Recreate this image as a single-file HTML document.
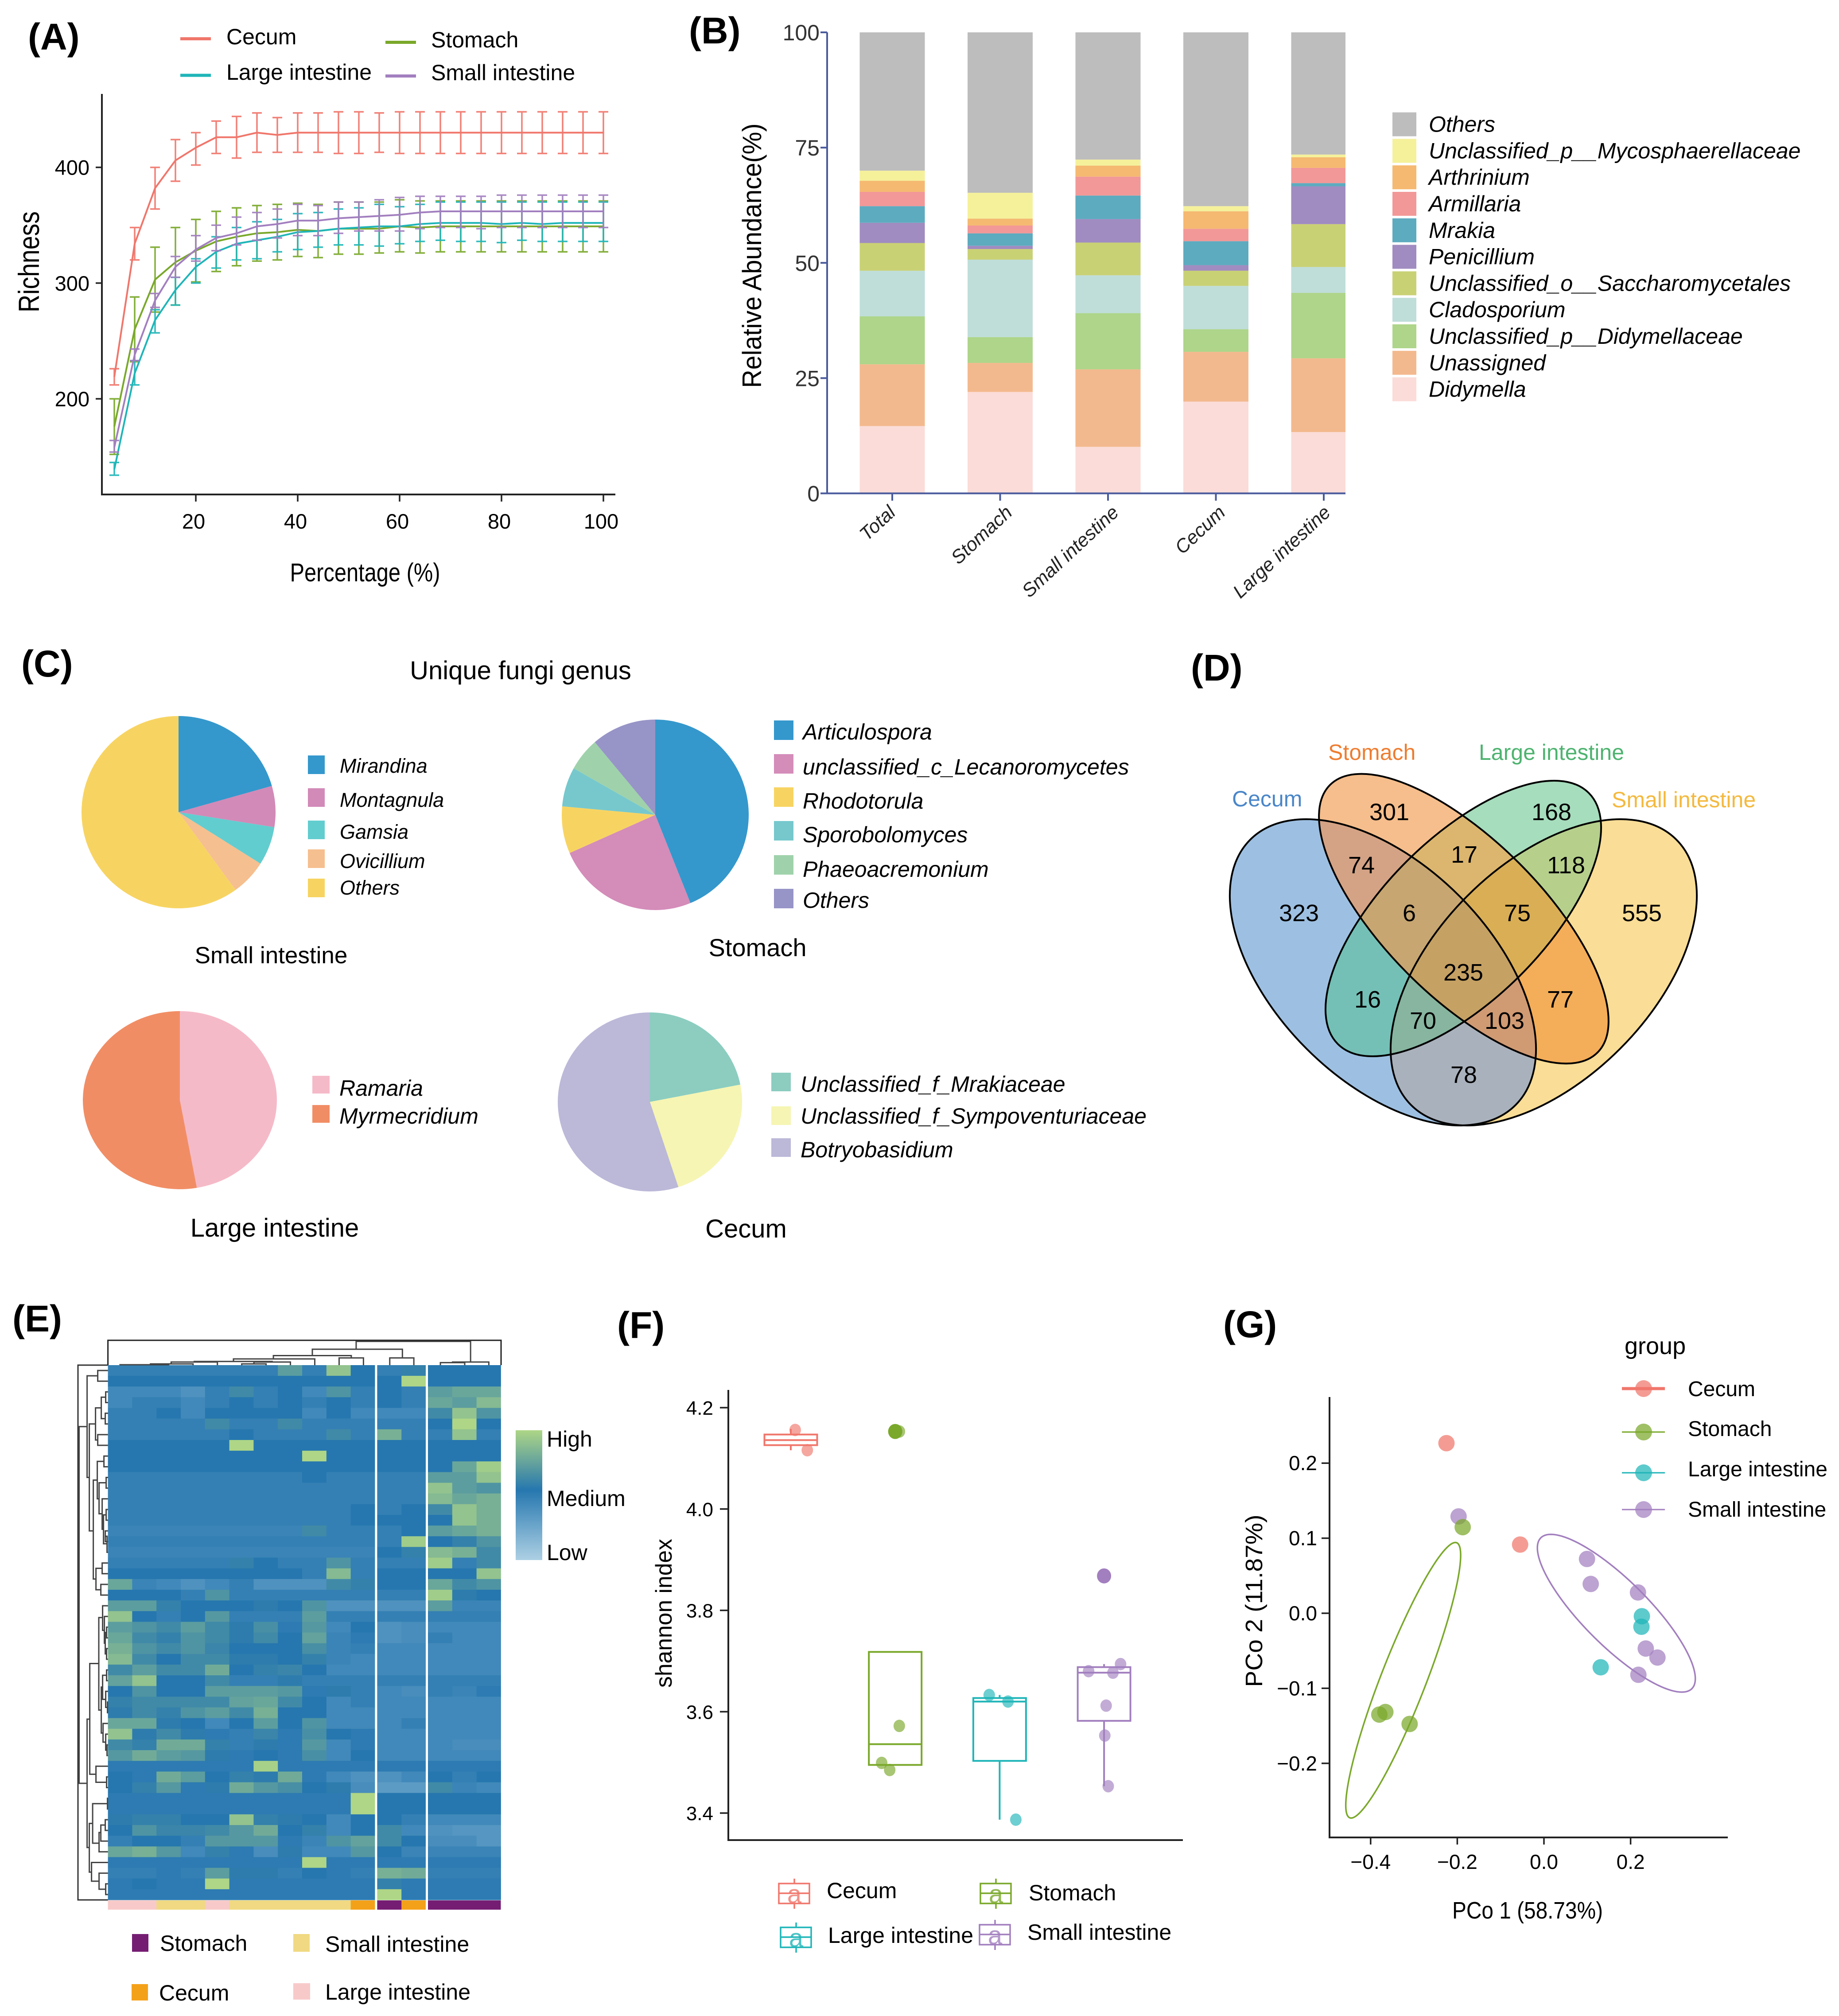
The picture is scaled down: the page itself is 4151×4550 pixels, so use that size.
<!DOCTYPE html>
<html lang="en"><head><meta charset="utf-8"><title>Gut fungi composite figure</title>
<style>html,body{margin:0;padding:0;background:#fff}svg{display:block;font-family:"Liberation Sans",Arial,sans-serif}</style></head>
<body>
<svg id="fig" xmlns="http://www.w3.org/2000/svg" width="4151" height="4550" viewBox="0 0 4151 4550">
<rect width="4151" height="4550" fill="#fff"/>
<g font-weight="bold" font-size="84" fill="#000">
<text x="63" y="112">(A)</text>
<text x="1555" y="98">(B)</text>
<text x="48" y="1527">(C)</text>
<text x="2688" y="1536">(D)</text>
<text x="28" y="3005">(E)</text>
<text x="1393" y="3020">(F)</text>
<text x="2761" y="3018">(G)</text>
</g>
<g id="panelA">
<text x="511" y="100" font-size="50">Cecum</text>
<text x="511" y="180" font-size="50">Large intestine</text>
<text x="973" y="107" font-size="50">Stomach</text>
<text x="973" y="181" font-size="50">Small intestine</text>
<text transform="translate(88 591) rotate(-90)" text-anchor="middle" font-size="66" textLength="228" lengthAdjust="spacingAndGlyphs">Richness</text>
<text x="824" y="1312" text-anchor="middle" font-size="58" textLength="339" lengthAdjust="spacingAndGlyphs">Percentage (%)</text>
</g>
<g id="panelB">
<text transform="translate(1718 577) rotate(-90)" text-anchor="middle" font-size="60" textLength="597" lengthAdjust="spacingAndGlyphs">Relative Abundance(%)</text>
</g>
<g id="panelC">
<text x="1175" y="1533" text-anchor="middle" font-size="58">Unique fungi genus</text>
<text x="612" y="2174" text-anchor="middle" font-size="53">Small intestine</text>
<text x="1710" y="2158" text-anchor="middle" font-size="56">Stomach</text>
<text x="620" y="2791" text-anchor="middle" font-size="58">Large intestine</text>
<text x="1684" y="2793" text-anchor="middle" font-size="58">Cecum</text>
</g>
<g id="panelD">
<defs>
<clipPath id="cv"><ellipse cx="3121.5" cy="2194.5" rx="423.5" ry="243.8" transform="rotate(45 3121.5 2194.5)"/></clipPath>
<clipPath id="sv"><ellipse cx="3304" cy="2073.5" rx="427" ry="177" transform="rotate(45 3304 2073.5)"/></clipPath>
<clipPath id="lv"><ellipse cx="3303" cy="2073" rx="400.6" ry="181.6" transform="rotate(-45 3303 2073)"/></clipPath>
<clipPath id="mv"><ellipse cx="3484.5" cy="2194.5" rx="423.5" ry="243.8" transform="rotate(-45 3484.5 2194.5)"/></clipPath>
</defs>
<g id="vennRegions"></g>
<g fill="none" stroke="#000" stroke-width="4">
<ellipse cx="3121.5" cy="2194.5" rx="423.5" ry="243.8" transform="rotate(45 3121.5 2194.5)"/>
<ellipse cx="3304" cy="2073.5" rx="427" ry="177" transform="rotate(45 3304 2073.5)"/>
<ellipse cx="3303" cy="2073" rx="400.6" ry="181.6" transform="rotate(-45 3303 2073)"/>
<ellipse cx="3484.5" cy="2194.5" rx="423.5" ry="243.8" transform="rotate(-45 3484.5 2194.5)"/>
</g>
<g font-size="50">
<text x="2781" y="1820" fill="#4a86c8">Cecum</text>
<text x="2998" y="1715" fill="#ee7d31">Stomach</text>
<text x="3338" y="1715" fill="#4db36f">Large intestine</text>
<text x="3638" y="1822" fill="#f4b93e">Small intestine</text>
</g>
<g font-size="54" text-anchor="middle">
<text x="2932" y="2079">323</text>
<text x="3136" y="1851">301</text>
<text x="3502" y="1851">168</text>
<text x="3706" y="2079">555</text>
<text x="3073" y="1971">74</text>
<text x="3305" y="1947">17</text>
<text x="3535" y="1971">118</text>
<text x="3181" y="2079">6</text>
<text x="3425" y="2079">75</text>
<text x="3303" y="2213">235</text>
<text x="3087" y="2274">16</text>
<text x="3522" y="2274">77</text>
<text x="3212" y="2322">70</text>
<text x="3396" y="2322">103</text>
<text x="3304" y="2444">78</text>
</g>
</g>
<g id="panelE">
<defs><linearGradient id="heatLegend" x1="0" y1="0" x2="0" y2="1"><stop offset="0" stop-color="#aed686"/><stop offset=".46" stop-color="#2677af"/><stop offset="1" stop-color="#add0e4"/></linearGradient></defs>
<rect x="1164" y="3228" width="60" height="293" fill="url(#heatLegend)"/>
<g font-size="50">
<text x="1234" y="3265">High</text>
<text x="1234" y="3399">Medium</text>
<text x="1234" y="3521">Low</text>
<rect x="298" y="4365" width="37" height="40" fill="#751d73"/>
<text x="361" y="4403">Stomach</text>
<rect x="662" y="4365" width="37" height="40" fill="#f0d982"/>
<text x="734" y="4405">Small intestine</text>
<rect x="297" y="4478" width="37" height="37" fill="#f4a11a"/>
<text x="359" y="4515">Cecum</text>
<rect x="662" y="4476" width="38" height="37" fill="#f7cac9"/>
<text x="734" y="4513">Large intestine</text>
</g>
</g>
<g id="panelF">
<text transform="translate(1516 3641) rotate(-90)" text-anchor="middle" font-size="52" textLength="336" lengthAdjust="spacingAndGlyphs">shannon index</text>
</g>
<g id="panelG">
<text x="3448" y="4330" text-anchor="middle" font-size="54" textLength="340" lengthAdjust="spacingAndGlyphs">PCo 1 (58.73%)</text>
<text transform="translate(2849 3613) rotate(-90)" text-anchor="middle" font-size="54" textLength="389" lengthAdjust="spacingAndGlyphs">PCo 2 (11.87%)</text>
<text x="3667" y="3056" font-size="54">group</text>
</g>
</svg>
<script>
// ---------- Panel A data ----------
const richnessPct=[4,8,12,16,20,24,28,32,36,40,44,48,52,56,60,64,68,72,76,80,84,88,92,96,100];
const richnessTicksX=[20,40,60,80,100];
const richnessTicksY=[200,300,400];
const cecumMean=[219,334,382,406,417,426,426,430,428,430,430,430,430,430,430,430,430,430,430,430,430,430,430,430,430];
const cecumHi=[226,348,400,424,430,440,444,447,443,447,447,448,448,447,448,448,448,448,448,448,448,448,448,448,448];
const cecumLo=[212,320,364,388,402,412,408,413,413,413,413,412,412,413,412,412,412,412,412,412,412,412,412,412,412];
const stomachMean=[176,260,303,318,328,336,340,343,344,346,345,347,347,347,349,348,349,349,349,349,349,349,349,349,349];
const stomachHi=[200,288,331,348,355,362,365,367,368,369,368,370,370,370,372,371,371,371,371,371,371,371,371,371,371];
const stomachLo=[152,232,275,281,301,310,315,319,320,323,322,325,325,326,327,326,327,327,327,327,327,327,327,327,327];
const largeMean=[139,222,268,294,314,327,334,337,340,344,345,347,348,349,349,351,352,352,352,351,352,351,352,352,352];
const largeHi=[145,233,277,305,321,340,348,353,355,360,361,364,365,368,366,368,370,370,370,370,370,370,370,370,370];
const largeLo=[134,212,257,281,300,313,320,321,327,329,331,333,333,332,334,336,337,336,336,335,337,336,336,336,336];
const smallMean=[158,238,285,314,329,339,343,349,351,354,354,356,357,358,359,361,362,362,362,362,362,362,362,362,362];
const smallHi=[164,243,291,323,341,350,357,361,364,368,367,370,370,372,374,375,375,375,375,376,376,376,376,376,376];
const smallLo=[154,233,279,305,319,328,333,337,339,341,341,343,345,345,345,347,348,348,347,348,348,348,348,348,348];
// ---------- Panel B data ----------
const barCategories=['Total','Stomach','Small intestine','Cecum','Large intestine'];
const abundanceTicks=[0,25,50,75,100];
const genusNames=['Didymella','Unassigned','Unclassified_p__Didymellaceae','Cladosporium','Unclassified_o__Saccharomycetales','Penicillium','Mrakia','Armillaria','Arthrinium','Unclassified_p__Mycosphaerellaceae','Others'];
const abundanceTotal=[14.6,13.4,10.4,9.9,6,4.4,3.6,3.1,2.4,2.2,30];
const abundanceStomach=[22,6.3,5.6,16.8,2.3,0.7,2.7,1.7,1.5,5.6,34.8];
const abundanceSmall=[10.1,16.8,12.2,8.2,7.1,5.1,5.1,4.1,2.4,1.3,27.6];
const abundanceCecum=[19.9,10.8,4.9,9.4,3.3,1.2,5.2,2.7,3.8,1.1,37.7];
const abundanceLarge=[13.3,16,14.2,5.6,9.3,8.2,0.7,3.3,2.3,0.6,26.5];
// ---------- Panel C data ----------
const pieSmallNames=['Mirandina','Montagnula','Gamsia','Ovicillium','Others'];
const pieSmallValues=[20.6,6.9,6.5,6,60];
const pieStomachNames=['Articulospora','unclassified_c_Lecanoromycetes','Rhodotorula','Sporobolomyces','Phaeoacremonium','Others'];
const pieStomachValues=[43.9,24.6,8,6.7,5.7,11.2];
const pieLargeNames=['Ramaria','Myrmecridium'];
const pieLargeValues=[47.2,52.8];
const pieCecumNames=['Unclassified_f_Mrakiaceae','Unclassified_f_Sympoventuriaceae','Botryobasidium'];
const pieCecumValues=[21.9,23.1,55];
// ---------- Panel E data (tenths: 0 = medium, +10 = high, -10 = low) ----------
const heatmapRows=[
[-1,-1,-1,-1,-1,-1,-1,4,-1,8,0,-1,1,0,0,0],
[0,0,0,0,0,0,0,0,0,0,0,0,10,0,0,0],
[-2,-2,-2,-3,-1,2,-1,0,-2,3,-1,0,-1,4,5,5],
[-2,-1,-1,-2,-1,0,-1,0,-1,0,-1,0,-1,5,4,7],
[-1,-1,0,-2,0,0,0,0,-2,0,-2,-2,-2,2,8,3],
[-1,-1,-1,-1,2,-1,-1,2,-1,-1,-1,-1,-1,0,10,0],
[-1,-1,-1,-1,-1,0,-1,-1,-1,2,-1,6,-1,-1,8,-1],
[0,0,0,0,0,10,0,0,0,0,0,0,0,0,0,0],
[0,0,0,0,0,0,0,0,10,0,0,0,0,0,0,0],
[0,0,0,0,0,0,0,0,0,0,0,0,0,0,5,9],
[-1,-1,-1,-1,-1,-1,-1,-1,0,-1,-1,-1,-1,4,4,8],
[-1,-1,-1,-1,-1,-1,-1,-1,-1,-1,-1,-1,-1,8,4,3],
[-1,-1,-1,-1,-1,-1,-1,-1,-1,-1,-1,-1,-1,7,5,6],
[-1,-1,-1,-1,-1,-1,-1,-1,-1,-1,0,-1,0,2,8,6],
[-1,-1,-1,-1,-1,-1,-1,-1,-1,-1,0,0,0,0,8,6],
[-1.5,-1.5,-1.5,-1.5,-1.5,-1.5,-1.5,-1.5,2,-1,-1,-1,0,4,5,6],
[-1,-1,-1,-1,-1,-1,-1,-1,-1,-1,-1,-1,9,0,1,3],
[-1.5,-1.5,-1.5,-1.5,-1.5,-1.5,-1.5,-1.5,-1.5,-1.5,-1.5,0,1,7,6,2],
[-1,-1,-1,-1,-1,1,0,-1,-1,3,-1,-1,-1,9,-1,2],
[0,0,0,0,0,0,0,0,-1,7,-1,0,0,0,0,8],
[5,-1.5,-2,-3,-2,-1,-3,-3,-3,2,1,0,0,5,2,3],
[0,0,0,-1,3,-1,-1,-1,-1,-1,-1,-1,-1,9,0.5,0],
[4,4,1,0,0,0,0.5,0,3,-3,-3,-3,-3,4,-1.5,-1.5],
[8,0,-1,0,3.5,-1,-1,-1,4,-1,-1,-1,-1,-1,-1,-1],
[4,3,2,4,2,0.5,2.5,-0.5,3.5,-2,0,-3,-2.5,-2,-2,-2],
[5,2,1,3,2,0.5,2,0,4.5,-1.5,-0.5,-3,-2.5,-1,-2,-2],
[6,3,2,3,1.5,0,0,0,2.5,-1.5,-1,-2,-2,-2,-2,-2],
[7,2,0,2,2,0.5,0.5,0,1,-1.5,-2,-2,-2,-2,-2,-2],
[2,4,2,2,5.5,0,1,1.5,0,-2,-2,-2,-2,-2,-2,-2],
[4.5,8,0,0,2,-1,-1,0.5,-1,-1,-1,-1,-1,-1,-1,-1],
[0,3,0,0,4,4,4,3.5,-0.5,0.5,-1,-2,-2.5,-1,-1.5,-0.5],
[1,2,2,2,2,4.5,5,2,0,-2,-1,-2,-2,-2,-2,-2],
[0.5,2,1,3,4,2,6,0,0,-2,-2,-2,-2,-2,-2,-2],
[5,5,0.5,0,-2,0,4,0,3,-2,-2,-2,-1,-2,-2,-2],
[8,0.5,2,0.5,-0.5,-1,1.5,-0.5,2.5,0,-0.5,-2,-2,-2,-2,-2],
[2,1,5.5,5.5,1,-1,0.5,-0.5,3.5,-2,-0.5,-2,-2,-2,-2.5,-2.5],
[3.5,5.5,4,3.5,0.5,-0.5,0,-0.5,2.5,-2,0,-2,-2,-2,-2,-2],
[-0.5,-0.5,-0.5,-0.5,-0.5,-0.5,9.5,-0.5,-0.5,-0.5,-0.5,-0.5,-0.5,-0.5,-0.5,-0.5],
[0,-0.5,5.5,4,0,1,0.5,5.5,-0.5,-2,-3,-3,-2,0,-1,0],
[0,1,3.5,-0.5,0.5,5.5,3.5,2.5,0,0.5,-2.5,-4,-4,2,-1.5,-2],
[-0.5,-0.5,-0.5,-0.5,-0.5,-0.5,-0.5,-0.5,-0.5,-0.5,10,0,0,0,0,0],
[-0.5,-0.5,-0.5,-0.5,-0.5,-0.5,-0.5,-0.5,-0.5,-0.5,10,0,0,0,0,0],
[0.5,1,1,0,0,8,1,0.5,0,-2,0,0,-1,-2,-2,-2],
[0,3,1.5,1.5,2,3.5,5.5,0,1,-2,0,2,-2,-3,-3.5,-3.5],
[-1,0,0,-1,3.5,3.5,3.5,-0.5,-1.5,3,4.5,2,0,-2.5,-2.5,-3.5],
[5,6,3.5,-2,1,-0.5,-2.5,0.5,-2,-2,3.5,0,-1.5,-1.5,-1.5,-1.5],
[-0.5,-0.5,-0.5,-0.5,-0.5,-0.5,-0.5,-0.5,10,-0.5,-0.5,-0.5,-0.5,-0.5,-0.5,-0.5],
[-1,-1,-0.5,-1,4,0.5,0.5,-1,0,-0.5,-1,6,5.5,-1,-1,-1],
[-0.5,0,-0.5,-0.5,10,-0.5,-0.5,-0.5,-0.5,-0.5,-0.5,1,-0.5,-0.5,-0.5,-0.5],
[-0.5,-0.5,-0.5,-0.5,-0.5,-0.5,-0.5,-0.5,-0.5,-0.5,-0.5,10,-0.5,-0.5,-0.5,-0.5]];
const columnGroups=['large','large','small','small','large','small','small','small','small','small','cecum','stomach','cecum','stomach','stomach','stomach'];
// dendrogram merges: position A, position B, height, child height A, child height B
const columnMerges=[[0,2,.015,0,0],[1.25,3,.05,.015,0],[2.1,4,.126,.05,0],[5,6,.05,0,0],[5.5,7,.126,.05,0],[3.05,6.25,.148,.126,.126],[4.66,8,.25,.148,0],[9,10,.29,0,0],[6.3,9.5,.385,.25,.29],[11.08,12.07,.29,0,0],[7.9,11.6,.64,.385,.29],[13.16,14.16,.1,0,0],[13.66,15.15,.126,.1,0],[9.7,14.4,.955,.64,.126]];
const rowMerges=[[0,1,23,0,0],[2,3,5,0,0],[4,5,6,0,0],[2.5,4.5,15,5,6],[6,7,23,0,0],[3.5,6.5,28,15,23],[8,9,9,0,0],[10,11,4,0,0],[13,14,4,0,0],[15,16,6,0,0],[15.5,17,2,6,0],[13.5,16.2,10,4,2],[12,14.85,13,0,10],[10.5,13.4,20,4,13],[8.5,12,24,9,20],[18,19,13,0,0],[20,21,16,0,0],[18.5,20.5,27,13,16],[10.25,19.5,33,24,27],[5,15,42,28,33],[0.5,10,47,23,42],
[24,25,3,0,0],[26,27,3,0,0],[24.5,26.5,6,3,3],[23,25.5,8,0,6],[22,24.3,12,0,8],[28,29,3,0,0],[31,32,1,0,0],[30,31.5,5,0,1],[28.5,30.75,12,3,5],[35,36,2,0,0],[34,35.5,5,0,2],[33,34.75,11,0,5],[29.6,33.9,15,12,11],[23.1,31.75,20.6,12,15],[38,39,3,0,0],[37,38.5,27,0,3],[27.4,37.75,41,20.6,27],
[40,41,1,0,0],[42,43,6,0,0],[42.5,44,16,6,0],[43.2,45,20,16,0],[40.5,44.2,34.5,1,20],[48,49,5,0,0],[47,48.5,20,0,5],[46,47.75,37,0,20],[42.35,46.9,42,34.5,37],[32.6,44.6,47,41,42],[5.25,38.6,65,47,47]];
// ---------- Panel F data ----------
const shannonTicks=[3.4,3.6,3.8,4.0,4.2];
const boxGroups=['Cecum','Stomach','Large intestine','Small intestine'];
const boxQ1=[4.126,3.495,3.503,3.582];
const boxMedian=[4.136,3.536,3.62,3.677];
const boxQ3=[4.147,3.718,3.627,3.688];
const whiskerLow=[4.116,3.495,3.387,3.453];
const whiskerHigh=[4.158,3.718,3.633,3.694];
const shannonCecum=[4.156,4.116];
const jitterCecum=[.042,.158];
const shannonStomach=[4.153,4.153,3.572,3.499,3.485];
const jitterStomach=[.0,.04,.039,-.13,-.053];
const shannonLarge=[3.633,3.62,3.387];
const jitterLarge=[-.10,.08,.155];
const shannonSmall=[3.694,3.68,3.677,3.612,3.553,3.453];
const jitterSmall=[.158,-.148,.085,.02,.007,.04];
const outlierStomach=[4.153];
const outlierSmall=[3.868];
// ---------- Panel G data ----------
const pcoTicksX=[-0.4,-0.2,0.0,0.2];
const pcoTicksY=[-0.2,-0.1,0.0,0.1,0.2];
const pcoCecumX=[-.225,-.055];
const pcoCecumY=[.2266,.0915];
const pcoStomachX=[-.1875,-.38,-.366,-.31];
const pcoStomachY=[.1147,-.135,-.1316,-.1475];
const pcoLargeX=[.226,.225,.131];
const pcoLargeY=[-.004,-.018,-.072];
const pcoSmallX=[-.197,.0994,.108,.217,.235,.262,.218];
const pcoSmallY=[.129,.0723,.039,.0277,-.047,-.059,-.082];
const ellipseStomach=[-.3248,-.0893,.1326,.1836,.907];
const ellipseSmall=[.1671,0,.1823,.1051,-.829];

const NS='http://www.w3.org/2000/svg';
const COL={cecum:'#f0766b',stomach:'#7aa82a',large:'#1fb5b8',small:'#a27fbf'};
function mk(parent,tag,attrs){const e=document.createElementNS(NS,tag);for(const k in attrs)e.setAttribute(k,attrs[k]);parent.appendChild(e);return e;}
function tx(parent,str,x,y,size,anchor,extra){const e=mk(parent,'text',Object.assign({x:x,y:y,'font-size':size,'text-anchor':anchor||'start'},extra||{}));e.textContent=str;return e;}

// ===== Panel A =====
(function(){
const g=document.getElementById('panelA');
const X=p=>442+(p-20)*11.5, Y=v=>377.7+(400-v)*2.612;
const series=[['cecum',cecumMean,cecumHi,cecumLo],['stomach',stomachMean,stomachHi,stomachLo],['large',largeMean,largeHi,largeLo],['small',smallMean,smallHi,smallLo]];
series.forEach(s=>{
 const c=COL[s[0]];
 s[1].forEach((m,i)=>{
  const x=X(richnessPct[i]);
  const bar=mk(g,'path',{d:`M${x-11} ${Y(s[2][i])}H${x+11}M${x} ${Y(s[2][i])}V${Y(s[3][i])}M${x-11} ${Y(s[3][i])}H${x+11}`,stroke:c,'stroke-width':3.5,fill:'none',opacity:.92});
  
  
 });
 const line=mk(g,'polyline',{points:s[1].map((m,i)=>X(richnessPct[i])+','+Y(m)).join(' '),fill:'none',stroke:c,'stroke-width':4,'stroke-linejoin':'round'});
 
 
});
const ax=mk(g,'path',{d:'M230 212V1116H1389',fill:'none',stroke:'#222','stroke-width':4});


richnessTicksX.forEach(t=>{
 const k=mk(g,'line',{x1:X(t),x2:X(t),y1:1116,y2:1132,stroke:'#222','stroke-width':3.5});
 
 
 const l=tx(g,t,X(t)-5,1193,47,'middle');
 
 
});
richnessTicksY.forEach(t=>{
 const k=mk(g,'line',{x1:216,x2:230,y1:Y(t),y2:Y(t),stroke:'#222','stroke-width':3.5});
 
 
 const l=tx(g,t,202,Y(t)+17,47,'end');
 
 
});
[['cecum',407,87.5],['large',407,170],['stomach',870,95.5],['small',870,171.5]].forEach(a=>{
 const k=mk(g,'line',{x1:a[1],x2:a[1]+69,y1:a[2],y2:a[2],stroke:COL[a[0]],'stroke-width':7});
 
 
});
})();

// ===== Panel B =====
(function(){
const g=document.getElementById('panelB');
const colors=['#fbdcd8','#f3b98e','#aed58a','#bfded9','#c9d175','#a08cc0','#5dabbf','#f29898','#f5b971','#f5f19a','#bdbdbd'];
const labelOffsetX=[10,30,27,24,18];
const Y=v=>1113.5-v*10.405;
const X=i=>2014+i*243.5;
const stacks=[abundanceTotal,abundanceStomach,abundanceSmall,abundanceCecum,abundanceLarge];
stacks.forEach((vals,i)=>{
 let base=0;
 vals.forEach((v,j)=>{
  const left=X(i)-73.5, right=Math.min(X(i)+73.5,3037);
  const r=mk(g,'rect',{x:left,y:Y(base+v),width:right-left,height:Y(base)-Y(base+v),fill:colors[j]});
  
  
  base+=v;
 });
});
const ax=mk(g,'path',{d:'M1867 73V1113.5M1852 1113.5H3037',fill:'none',stroke:'#4a5a9c','stroke-width':4});


abundanceTicks.forEach(t=>{
 const k=mk(g,'line',{x1:1852,x2:1867,y1:Y(t),y2:Y(t),stroke:'#4a5a9c','stroke-width':4});
 
 
 const l=tx(g,t,1850,Y(t)+18,50,'end',{fill:'#333'});
 
 
});
barCategories.forEach((c,i)=>{
 const k=mk(g,'line',{x1:X(i),x2:X(i),y1:1113.5,y2:1130,stroke:'#4a5a9c','stroke-width':4});
 
 
 const ex=X(i)+labelOffsetX[i], ey=1160;
 const l=tx(g,c,ex,ey,43,'end',{'font-style':'italic',fill:'#222',transform:`rotate(-43 ${ex} ${ey})`});
 
 
});
genusNames.slice().reverse().forEach((n,i)=>{
 const y=253.6+i*59.8, c=colors[10-i];
 const s=mk(g,'rect',{x:3143,y:y,width:54,height:54,fill:c});
 
 
 const l=tx(g,n,3225,y+44,50,'start',{'font-style':'italic'});
 
 
});
})();

// ===== Panel C =====
(function(){
const g=document.getElementById('panelC');
function pie(name,cx,cy,rx,ry,values,colors,names,swX,swW,swH,ys,txtYs,txtX,font){
 const sum=values.reduce((a,b)=>a+b,0);let a0=0;
 values.forEach((v,i)=>{
  const a1=a0+v/sum*Math.PI*2;
  const x0=cx+rx*Math.sin(a0),y0=cy-ry*Math.cos(a0),x1=cx+rx*Math.sin(a1),y1=cy-ry*Math.cos(a1);
  const p=mk(g,'path',{d:`M${cx} ${cy}L${x0} ${y0}A${rx} ${ry} 0 ${a1-a0>Math.PI?1:0} 1 ${x1} ${y1}Z`,fill:colors[i]});
  
  
  a0=a1;
  const s=mk(g,'rect',{x:swX,y:ys[i]-swH/2,width:swW,height:swH,fill:colors[i]});
  
  
  const l=tx(g,names[i],txtX,txtYs[i]+font*.36,font,'start',{'font-style':'italic'});
  
  
 });
}
pie('small-intestine',403,1833,219,217,pieSmallValues,['#3498cc','#d28ab8','#62cdcf','#f6bf8f','#f7d462'],pieSmallNames,695,38,42,[1726,1800,1873,1938,2004],[1728,1805,1877,1943,2003],767,45);
pie('stomach',1479,1839,211,215,pieStomachValues,['#3498cc','#d48cb9','#f7d462','#76c8cd','#9fd2ab','#9794c7'],pieStomachNames,1747,44,44,[1648,1724,1799,1875,1952,2028],[1651,1730,1807,1883,1961,2031],1812,50);
pie('large-intestine',406,2483,219,201,pieLargeValues,['#f5bac8','#f18d65'],pieLargeNames,705,39,40,[2448,2514],[2455,2518],766,50);
pie('cecum',1467,2487,208,202,pieCecumValues,['#8ccdc0','#f6f5b3','#bbb8d8'],pieCecumNames,1741,44,42,[2442,2518,2590],[2446,2518,2594],1807,50);
})();

// ===== Panel D regions =====
(function(){
const g=document.getElementById('vennRegions');
const singles=[['cv','#9dc0e2'],['sv','#f5be8c'],['lv','#a6ddbd'],['mv','#fadd96']];
singles.forEach(s=>{
 const r=mk(g,'rect',{x:2700,y:1700,width:1200,height:900,fill:s[1],'clip-path':`url(#${s[0]})`});
 
 
});
const overlaps=[[['cv','sv'],'#d4a385'],[['sv','lv'],'#dcb66e'],[['lv','mv'],'#b6d08c'],[['cv','lv'],'#74c0b6'],[['sv','mv'],'#f4ad58'],[['cv','mv'],'#a9b1bc'],
[['cv','sv','lv'],'#c7a671'],[['sv','lv','mv'],'#d9ae55'],[['cv','lv','mv'],'#87b5a0'],[['cv','sv','mv'],'#d09a73'],[['cv','sv','lv','mv'],'#c5a163']];
overlaps.forEach(o=>{
 let host=g;
 o[0].forEach(id=>{host=mk(host,'g',{'clip-path':`url(#${id})`});});
 const r=mk(host,'rect',{x:2700,y:1700,width:1200,height:900,fill:o[1]});
 
 
});
})();

// ===== Panel E =====
(function(){
const g=document.getElementById('panelE');
const left=243.6,cw=54.8,top=3081,rh=24.14;
const mid=[38,119,175],hi=[174,214,134],lo=[173,208,228];
function heat(v){const t=Math.abs(v)/10,e=v>=0?hi:lo;return 'rgb('+mid.map((m,i)=>Math.round(m+(e[i]-m)*t)).join(',')+')';}
const colX=c=>left+c*cw+(c>=11?5:0)+(c>=13?5:0);
heatmapRows.forEach((row,r)=>row.forEach((v,c)=>{
 const e=mk(g,'rect',{x:colX(c),y:top+r*rh,width:cw+.4,height:rh+.4,fill:heat(v)});
 if(c===10||c===12)e.setAttribute('width',cw);
 
 
}));
const gc={large:'#f7cac9',small:'#f0d982',cecum:'#f4a11a',stomach:'#751d73'};
columnGroups.forEach((k,c)=>{
 const e=mk(g,'rect',{x:colX(c),y:top+heatmapRows.length*rh+1,width:(c===10||c===12||c===15)?cw:cw+.4,height:21,fill:gc[k]});
 
 
});
const TX=p=>270.9+p*54.95, TY=h=>top-h*56;
const frame=mk(g,'path',{d:`M${left} ${top}V3025H1131V${top}`,fill:'none',stroke:'#222','stroke-width':3});


columnMerges.forEach(m=>{
 const e=mk(g,'path',{d:`M${TX(m[0])} ${TY(m[3])}V${TY(m[2])}H${TX(m[1])}V${TY(m[4])}`,fill:'none',stroke:'#444','stroke-width':3});
 
 
});
const LX=d=>left-d, LY=r=>top+(r+.5)*rh;
const frame2=mk(g,'path',{d:`M${left} ${top}H176V${top+50*rh}H${left}`,fill:'none',stroke:'#333','stroke-width':3});


rowMerges.forEach(m=>{
 const e=mk(g,'path',{d:`M${LX(m[3])} ${LY(m[0])}H${LX(m[2])}V${LY(m[1])}H${LX(m[4])}`,fill:'none',stroke:'#444','stroke-width':3});
 
 
});
})();

// ===== Panel F =====
(function(){
const g=document.getElementById('panelF');
const X=i=>1785+i*235.7, Y=v=>3177+(4.2-v)*1143.75;
const cols=[COL.cecum,COL.stomach,COL.large,COL.small];
const pts=[[shannonCecum,jitterCecum],[shannonStomach,jitterStomach],[shannonLarge,jitterLarge],[shannonSmall,jitterSmall]];
boxGroups.forEach((b,i)=>{
 const c=cols[i],x=X(i),hw=59.5;
 const w=mk(g,'path',{d:`M${x} ${Y(whiskerHigh[i])}V${Y(boxQ3[i])}M${x} ${Y(boxQ1[i])}V${Y(whiskerLow[i])}`,stroke:c,'stroke-width':4,fill:'none'});
 
 
 const r=mk(g,'rect',{x:x-hw,y:Y(boxQ3[i]),width:hw*2,height:Y(boxQ1[i])-Y(boxQ3[i]),fill:'none',stroke:c,'stroke-width':4});
 
 
 const m=mk(g,'line',{x1:x-hw,x2:x+hw,y1:Y(boxMedian[i]),y2:Y(boxMedian[i]),stroke:c,'stroke-width':4});
 
 
 pts[i][0].forEach((v,j)=>{
  const d=mk(g,'ellipse',{cx:x+pts[i][1][j]*235.7,cy:Y(v),rx:13,ry:14,fill:c,opacity:.65});
  
  
 });
});
outlierStomach.forEach(v=>{
 const d=mk(g,'ellipse',{cx:X(1),cy:Y(v),rx:16,ry:17,fill:COL.stomach});
 
 
});
outlierSmall.forEach(v=>{
 const d=mk(g,'ellipse',{cx:X(3),cy:Y(v),rx:16,ry:17,fill:COL.small});
 
 
});
const ax=mk(g,'path',{d:'M1644 3137V4153H2670',fill:'none',stroke:'#222','stroke-width':4});


shannonTicks.forEach(t=>{
 const k=mk(g,'line',{x1:1625,x2:1644,y1:Y(t),y2:Y(t),stroke:'#222','stroke-width':3.5});
 
 
 const l=tx(g,t.toFixed(1),1610,Y(t)+16,44,'end');
 
 
});
[[COL.cecum,1758,4251,1866,4284,'Cecum'],[COL.stomach,2213,4251,2322,4289,'Stomach'],[COL.large,1762,4350,1869,4385,'Large intestine'],[COL.small,2211,4344,2319,4378,'Small intestine']].forEach(k=>{
 const c=k[0],x=k[1],y=k[2];
 const w=mk(g,'path',{d:`M${x+35} ${y-11}V${y+57}`,stroke:c,'stroke-width':3.5,fill:'none'});
 
 
 const r=mk(g,'rect',{x:x,y:y,width:69,height:45,fill:'#fff',stroke:c,'stroke-width':3.5});
 
 
 const m=mk(g,'line',{x1:x,x2:x+69,y1:y+22,y2:y+22,stroke:c,'stroke-width':3.5});
 
 
 const a=tx(g,'a',x+35,y+44,58,'middle',{fill:c,opacity:.8});
 
 
 const l=tx(g,k[5],k[3],k[4],50);
 
 
});
})();

// ===== Panel G =====
(function(){
const g=document.getElementById('panelG');
const X=v=>3485+v*978, Y=v=>3641-v*1694;
function ell(p,c,name){
 const pts=[];
 for(let k=0;k<=120;k++){const t=k/120*Math.PI*2;const rho=p[4];
  const yy=p[1]+p[3]*Math.sin(t);
  const xx=p[0]+p[2]*(rho*Math.sin(t)+Math.sqrt(1-rho*rho)*Math.cos(t));
  pts.push(X(xx)+','+Y(yy));}
 const e=mk(g,'polygon',{points:pts.join(' '),fill:'none',stroke:c,'stroke-width':3.5});
 
 
}
ell(ellipseStomach,COL.stomach,'confidence-ellipse-stomach');
ell(ellipseSmall,COL.small,'confidence-ellipse-small-intestine');
[[pcoSmallX,pcoSmallY,COL.small],[pcoCecumX,pcoCecumY,COL.cecum],[pcoStomachX,pcoStomachY,COL.stomach],[pcoLargeX,pcoLargeY,COL.large]].forEach(s=>{
 s[0].forEach((v,i)=>{
  const d=mk(g,'circle',{cx:X(v),cy:Y(s[1][i]),r:18.5,fill:s[2],opacity:.72});
  
  
 });
});
const ax=mk(g,'path',{d:'M3001 3153V4147H3900',fill:'none',stroke:'#222','stroke-width':4});


pcoTicksX.forEach(t=>{
 const k=mk(g,'line',{x1:X(t),x2:X(t),y1:4147,y2:4163,stroke:'#222','stroke-width':3.5});
 
 
 const l=tx(g,t.toFixed(1).replace('-','\u2212'),X(t),4218,46,'middle');
 
 
});
pcoTicksY.forEach(t=>{
 const k=mk(g,'line',{x1:2983,x2:3001,y1:Y(t),y2:Y(t),stroke:'#222','stroke-width':3.5});
 
 
 const l=tx(g,t.toFixed(1).replace('-','\u2212'),2973,Y(t)+16,46,'end');
 
 
});
[['Cecum',COL.cecum,3134,3151,7],['Stomach',COL.stomach,3232,3241,3],['Large intestine',COL.large,3324,3332,3],['Small intestine',COL.small,3407,3423,3]].forEach(k=>{
 const ln=mk(g,'line',{x1:3661,x2:3758,y1:k[2],y2:k[2],stroke:k[1],'stroke-width':k[4]});
 
 
 const d=mk(g,'circle',{cx:3710,cy:k[2],r:19,fill:k[1],opacity:.72});
 
 
 const l=tx(g,k[0],3810,k[3],48);
 
 
});
})();
</script>
</body></html>
